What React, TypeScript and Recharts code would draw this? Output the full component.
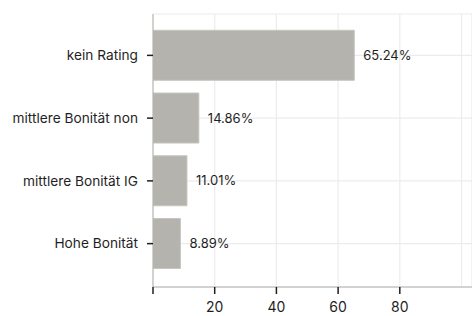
import { BarChart, Bar, XAxis, YAxis, CartesianGrid, LabelList, ReferenceLine } from "recharts";

const categories = ["kein Rating", "mittlere Bonität non", "mittlere Bonität IG", "Hohe Bonität"];
const shares = [65.24, 14.86, 11.01, 8.89];
const xTicks = [0, 20, 40, 60, 80];

const data = categories.map((name, i) => ({ name, value: shares[i] }));

const FONT = "Inter, 'Noto Sans', sans-serif";
const INK = "#1f1f1f";

export default function App() {
  return (
    <div style={{ position: "absolute", left: 0, top: 0, width: 472, height: 316, background: "#fff", fontFamily: FONT }}>
      <BarChart
        width={472}
        height={316}
        data={data}
        layout="vertical"
        margin={{ top: 14, right: 0, bottom: 0, left: 0 }}
        barCategoryGap="10%"
      >
        <CartesianGrid stroke="#ececec" strokeWidth={1.2} />
        <ReferenceLine x={100} stroke="#ececec" strokeWidth={1.2} ifOverflow="extendDomain" />
        <XAxis
          type="number"
          domain={[0, 103.4]}
          ticks={xTicks}
          allowDataOverflow
          height={29}
          tickSize={7}
          tickMargin={8}
          stroke="#b0b0ab"
          tickLine={{ stroke: INK, strokeWidth: 1.5 }}
          tick={{ fill: INK, fontSize: 14, fontFamily: FONT }}
          tickFormatter={(v: number) => (v === 0 ? "" : String(v))}
        />
        <YAxis
          type="category"
          dataKey="name"
          width={153}
          padding={{ top: 10, bottom: 12 }}
          tickSize={6}
          tickMargin={9}
          stroke="#b0b0ab"
          tickLine={{ stroke: INK, strokeWidth: 1.5 }}
          tick={{ fill: INK, fontSize: 13.7, fontFamily: FONT }}
        />
        <Bar dataKey="value" fill="#b4b3ae" stroke="#c6c5c0" strokeWidth={1} isAnimationActive={false}>
          <LabelList
            dataKey="value"
            position="right"
            offset={9}
            fill={INK}
            fontSize={13}
            fontFamily={FONT}
            formatter={(v: number) => `${v.toFixed(2)}%`}
          />
        </Bar>
      </BarChart>
    </div>
  );
}
